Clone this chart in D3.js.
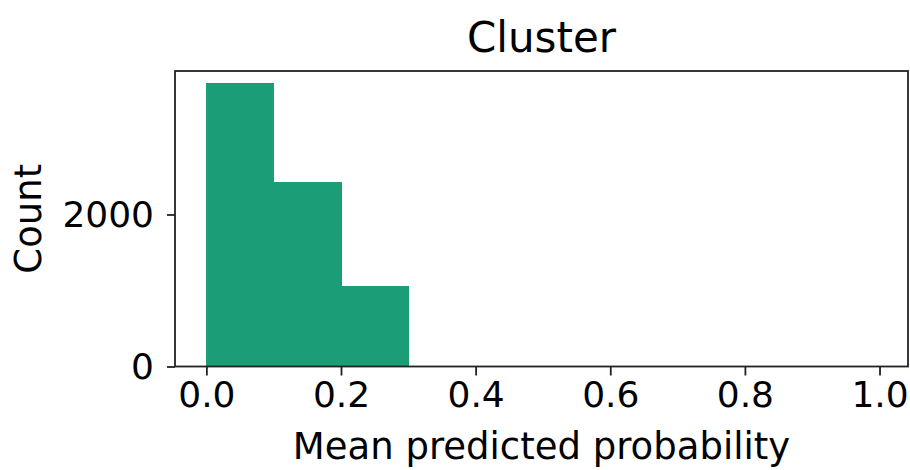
<!DOCTYPE html>
<html><head><meta charset="utf-8">
<script src="https://cdn.jsdelivr.net/npm/d3@7"></script>
<style>body{margin:0;background:#fff}svg{display:block}text{font-family:"DejaVu Sans",sans-serif;fill:#000}</style>
</head><body><div id="c"></div>
<script>
const title = "Cluster";
const xLabel = "Mean predicted probability";
const yLabel = "Count";
const binStarts = [0.0, 0.1, 0.2];
const binWidth = 0.1;
const counts = [3726, 2430, 1060];
const xTicks = [0.0, 0.2, 0.4, 0.6, 0.8, 1.0];
const yTicks = [0, 2000];

const W = 910, H = 470;
const L = 175, R = 908, T = 71, B = 366.5;
const svg = d3.select("#c").append("svg").attr("width", W).attr("height", H);
const x = d3.scaleLinear().domain([-0.0466, 1.0423]).range([L, R]);
const y = d3.scaleLinear().domain([0, 3888]).range([B, T]);

svg.append("g").attr("shape-rendering", "crispEdges").selectAll("rect").data(binStarts).join("rect")
  .attr("x", d => x(d)).attr("width", d => x(d + binWidth) - x(d) + 0.5)
  .attr("y", (d, i) => y(counts[i])).attr("height", (d, i) => y(0) - y(counts[i]))
  .attr("fill", "#1b9e77");

const xa = svg.append("g").attr("transform", `translate(0,${B})`)
  .call(d3.axisBottom(x).tickValues(xTicks).tickFormat(d3.format(".1f")).tickSize(9).tickPadding(6));
const ya = svg.append("g").attr("transform", `translate(${L},0)`)
  .call(d3.axisLeft(y).tickValues(yTicks).tickFormat(d3.format("d")).tickSize(8).tickPadding(13));
[xa, ya].forEach(a => {
  a.select(".domain").remove();
  a.selectAll("line").attr("stroke", "#222").attr("stroke-width", 1.8);
  a.selectAll("text").style("font-size", "36px").style("font-family", "DejaVu Sans").attr("fill", "#000");
});

svg.append("rect").attr("x", L).attr("y", T).attr("width", R - L).attr("height", B - T)
  .attr("fill", "none").attr("stroke", "#222").attr("stroke-width", 1.8);

svg.append("text").attr("x", (L + R) / 2).attr("y", 52).attr("text-anchor", "middle")
  .style("font-size", "42px").text(title);
svg.append("text").attr("x", (L + R) / 2).attr("y", 459).attr("text-anchor", "middle")
  .style("font-size", "37px").text(xLabel);
svg.append("text").attr("transform", `translate(41,${(T + B) / 2}) rotate(-90)`).attr("text-anchor", "middle")
  .style("font-size", "37px").text(yLabel);
</script></body></html>
